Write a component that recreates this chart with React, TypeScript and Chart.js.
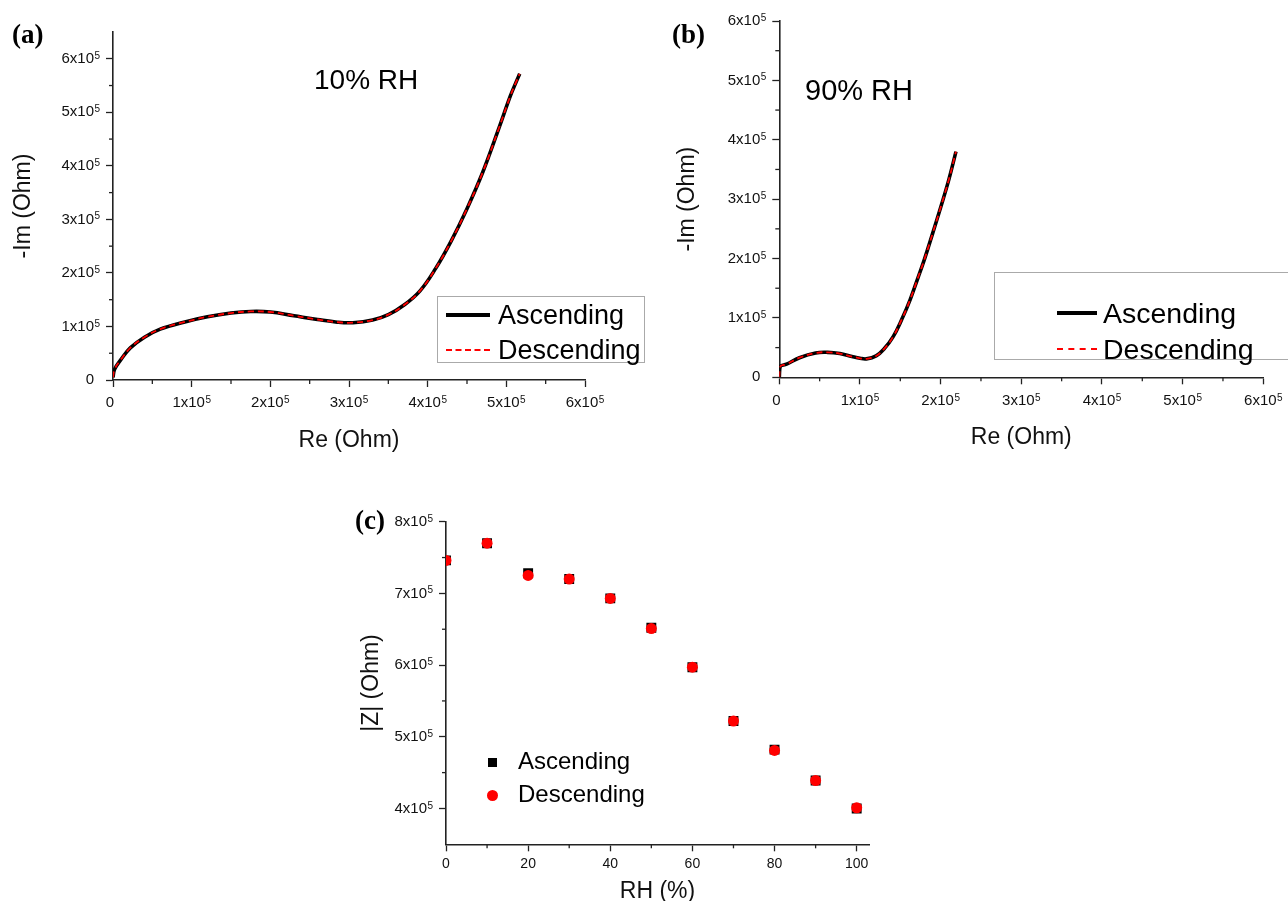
import React, { useEffect, useRef } from "react";
import { Chart, registerables } from "chart.js";

Chart.register(...registerables);

// ---------- DATA ----------
// Panel (a): 10% RH Nyquist plot (units: Ohm)
const reA: number[] = [0, 0.02e5, 0.1e5, 0.22e5, 0.4e5, 0.6e5, 0.9e5, 1.2e5, 1.5e5, 1.75e5, 2.0e5, 2.3e5, 2.6e5, 2.85e5, 3.05e5, 3.3e5, 3.5e5, 3.7e5, 3.9e5, 4.1e5, 4.3e5, 4.5e5, 4.7e5, 4.9e5, 5.05e5, 5.12e5, 5.17e5];
const imAasc: number[] = [0.05e5, 0.2e5, 0.38e5, 0.6e5, 0.8e5, 0.95e5, 1.08e5, 1.18e5, 1.25e5, 1.28e5, 1.27e5, 1.2e5, 1.13e5, 1.08e5, 1.07e5, 1.12e5, 1.22e5, 1.4e5, 1.66e5, 2.08e5, 2.6e5, 3.2e5, 3.88e5, 4.68e5, 5.3e5, 5.55e5, 5.72e5];
const imAdesc: number[] = [0.05e5, 0.2e5, 0.38e5, 0.6e5, 0.8e5, 0.95e5, 1.08e5, 1.18e5, 1.25e5, 1.28e5, 1.27e5, 1.2e5, 1.13e5, 1.08e5, 1.07e5, 1.12e5, 1.22e5, 1.4e5, 1.66e5, 2.08e5, 2.6e5, 3.2e5, 3.88e5, 4.68e5, 5.3e5, 5.55e5, 5.72e5];

// Panel (b): 90% RH Nyquist plot (units: Ohm)
const reB: number[] = [0, 0.01e5, 0.09e5, 0.25e5, 0.45e5, 0.6e5, 0.75e5, 0.9e5, 1.0e5, 1.08e5, 1.2e5, 1.3e5, 1.41e5, 1.52e5, 1.62e5, 1.72e5, 1.8e5, 1.9e5, 2.0e5, 2.1e5, 2.19e5];
const imBasc: number[] = [0, 0.18e5, 0.22e5, 0.33e5, 0.41e5, 0.42e5, 0.4e5, 0.35e5, 0.32e5, 0.31e5, 0.36e5, 0.48e5, 0.68e5, 0.98e5, 1.3e5, 1.68e5, 1.99e5, 2.42e5, 2.86e5, 3.32e5, 3.8e5];
const imBdesc: number[] = [0, 0.18e5, 0.22e5, 0.33e5, 0.41e5, 0.42e5, 0.4e5, 0.35e5, 0.32e5, 0.31e5, 0.36e5, 0.48e5, 0.68e5, 0.98e5, 1.3e5, 1.68e5, 1.99e5, 2.42e5, 2.86e5, 3.32e5, 3.8e5];

// Panel (c): |Z| vs RH
const rhC: number[] = [0, 10, 20, 30, 40, 50, 60, 70, 80, 90, 100];
const zAsc: number[] = [7.46e5, 7.7e5, 7.28e5, 7.2e5, 6.93e5, 6.52e5, 5.97e5, 5.22e5, 4.82e5, 4.39e5, 4.0e5];
const zDesc: number[] = [7.46e5, 7.7e5, 7.25e5, 7.2e5, 6.93e5, 6.51e5, 5.97e5, 5.22e5, 4.81e5, 4.39e5, 4.01e5];

const seriesNames: string[] = ["Ascending", "Descending"];
const panelLabels: string[] = ["(a)", "(b)", "(c)"];
const rhNotes: string[] = ["10% RH", "90% RH"];
const EXPONENT = "5";

// ---------- HELPERS ----------
const SANS = "'Liberation Sans', Arial, sans-serif";
const SERIF = "'Liberation Serif', 'Times New Roman', serif";
const AXIS = "#222";

// mantissa part "6x10"; the exponent is drawn as a superscript by the plugin below
const sciFmt = (v: number | string) => {
  const n = Number(v);
  if (n === 0) return "0";
  return `${Math.round(n / 1e5)}x10`;
};

const pts = (xs: number[], ys: number[]) => xs.map((x, i) => ({ x, y: ys[i] }));

const minorTicksPlugin = {
  id: "minorTicks",
  afterDraw(chart: any, _args: any, opts: any) {
    const ctx = chart.ctx;
    ctx.save();
    ctx.strokeStyle = AXIS;
    ctx.lineWidth = 1.3;
    const len = opts.length ?? 4;
    ["x", "y"].forEach((id) => {
      const sc = chart.scales[id];
      if (!sc) return;
      const vals = sc.ticks.map((t: any) => t.value);
      const minors: number[] = [];
      for (let i = 0; i < vals.length - 1; i++) minors.push((vals[i] + vals[i + 1]) / 2);
      if (vals.length > 1) {
        const st = vals[1] - vals[0];
        const after = vals[vals.length - 1] + st / 2;
        if (after < sc.max - 1e-9) minors.push(after);
        const before = vals[0] - st / 2;
        if (before > sc.min + 1e-9) minors.push(before);
      }
      minors.forEach((v) => {
        const p = sc.getPixelForValue(v);
        ctx.beginPath();
        if (id === "x") {
          ctx.moveTo(p, sc.top);
          ctx.lineTo(p, sc.top + len);
        } else {
          ctx.moveTo(sc.right, p);
          ctx.lineTo(sc.right - len, p);
        }
        ctx.stroke();
      });
    });
    ctx.restore();
  },
};

// draws the superscript exponent after every "Nx10" tick label
const exponentPlugin = {
  id: "sciExponent",
  afterDraw(chart: any, _args: any, opts: any) {
    const ids: string[] = opts.scales ?? [];
    const ctx = chart.ctx;
    ctx.save();
    ids.forEach((id) => {
      const sc = chart.scales[id];
      if (!sc || !sc.getLabelItems) return;
      const items = sc.getLabelItems();
      items.forEach((it: any) => {
        const label = String(it.label);
        if (!label.endsWith("x10")) return;
        const f = it.font;
        ctx.font = f.string;
        const w = ctx.measureText(label).width;
        const [tx, ty] = it.options.translation;
        const align = it.options.textAlign;
        const right = align === "right" ? tx : align === "left" ? tx + w : tx + w / 2;
        const mid = ty + (it.textOffset || 0);
        const size = f.size;
        const expSize = Math.round(size * 0.66);
        ctx.font = `${expSize}px ${SANS}`;
        ctx.fillStyle = "#111";
        ctx.textAlign = "left";
        ctx.textBaseline = "alphabetic";
        const capTop = mid - 0.37 * size;
        ctx.fillText(EXPONENT, right + 0.5, capTop - 1.5 + 0.716 * expSize);
      });
    });
    ctx.restore();
  },
};

function axis(opts: {
  min: number;
  max: number;
  step: number;
  title: string;
  fmt?: (v: number | string) => string;
  fit: number;
  horizontal: boolean;
  titlePad: number;
  tickSize: number;
  labelPad: number;
  labelOffset?: number;
}) {
  return {
    type: "linear",
    bounds: "data",
    min: opts.min,
    max: opts.max,
    ticks: {
      stepSize: opts.step,
      autoSkip: false,
      maxRotation: 0,
      color: "#111",
      padding: opts.labelPad,
      labelOffset: opts.labelOffset ?? 0,
      font: { family: SANS, size: opts.tickSize },
      callback: opts.fmt ?? ((v: number | string) => String(v)),
    },
    // major ticks at every whole multiple of the step inside [min, max]
    afterBuildTicks: (s: any) => {
      const out: { value: number }[] = [];
      const first = Math.ceil(opts.min / opts.step - 1e-9);
      const last = Math.floor(opts.max / opts.step + 1e-9);
      for (let k = first; k <= last; k++) out.push({ value: k * opts.step });
      s.ticks = out;
    },
    grid: {
      drawOnChartArea: false,
      drawTicks: true,
      tickLength: 7,
      tickWidth: 1.3,
      tickColor: AXIS,
    },
    border: { display: true, color: AXIS, width: 1.6 },
    title: {
      display: true,
      text: opts.title,
      color: "#111",
      font: { family: SANS, size: 23 },
      padding: opts.horizontal ? { top: 0, bottom: opts.titlePad } : { top: opts.titlePad, bottom: 0 },
    },
    afterFit: (s: any) => {
      if (opts.horizontal) s.height = opts.fit;
      else s.width = opts.fit;
    },
  };
}

function useChart(ref: React.RefObject<HTMLCanvasElement | null>, makeConfig: () => any) {
  useEffect(() => {
    if (!ref.current) return;
    const chart = new Chart(ref.current, makeConfig());
    return () => chart.destroy();
  }, []);
}

const lineDatasets = (xs: number[], asc: number[], desc: number[]) => [
  {
    label: seriesNames[1],
    data: pts(xs, desc),
    showLine: true,
    borderColor: "#ff0000",
    borderWidth: 1.8,
    borderDash: [6, 4],
    pointRadius: 0,
    tension: 0.4,
    order: 0,
  },
  {
    label: seriesNames[0],
    data: pts(xs, asc),
    showLine: true,
    borderColor: "#000",
    borderWidth: 3.6,
    pointRadius: 0,
    tension: 0.4,
    order: 1,
  },
];

const pluginOpts = (scales: string[]) => ({
  legend: { display: false },
  tooltip: { enabled: false },
  minorTicks: { length: 4 },
  sciExponent: { scales },
});

// ---------- COMPONENTS ----------
function LineLegend(props: { left: number; top: number; width: number; height: number; fontSize: number; rows: number[]; lineX: number; lineW: number; textX: number; thinDash?: boolean }) {
  const { left, top, width, height, fontSize, rows, lineX, lineW, textX, thinDash } = props;
  return (
    <div style={{ position: "absolute", left, top, width, height, border: "1.5px solid #aaa", boxSizing: "border-box" }}>
      {seriesNames.map((n, i) => (
        <React.Fragment key={n}>
          <div
            style={{
              position: "absolute",
              left: lineX,
              top: rows[i] - (i === 0 ? 2 : 1),
              width: lineW,
              height: 0,
              borderTop: i === 0 ? "4px solid #000" : `${thinDash ? 2 : 2.5}px dashed #ff0000`,
            }}
          />
          <div
            style={{
              position: "absolute",
              left: textX,
              top: rows[i] - fontSize * 0.6,
              fontFamily: SANS,
              fontSize,
              lineHeight: `${fontSize * 1.2}px`,
              color: "#000",
              whiteSpace: "nowrap",
            }}
          >
            {n}
          </div>
        </React.Fragment>
      ))}
    </div>
  );
}

export default function App() {
  const refA = useRef<HTMLCanvasElement>(null);
  const refB = useRef<HTMLCanvasElement>(null);
  const refC = useRef<HTMLCanvasElement>(null);

  useChart(refA, () => ({
    type: "scatter",
    data: { datasets: lineDatasets(reA, imAasc, imAdesc) },
    options: {
      animation: false,
      responsive: false,
      layout: { padding: { left: 0, top: 32, right: 35, bottom: 0 } },
      plugins: pluginOpts(["x", "y"]),
      scales: {
        x: axis({ min: 0, max: 6e5, step: 1e5, title: "Re (Ohm)", fmt: sciFmt, fit: 74, horizontal: true, titlePad: 0, tickSize: 15, labelPad: 7, labelOffset: -3 }),
        y: axis({ min: 0, max: 6.5e5, step: 1e5, title: "-Im (Ohm)", fmt: sciFmt, fit: 113, horizontal: false, titlePad: 10, tickSize: 15, labelPad: 12 }),
      },
    },
    plugins: [minorTicksPlugin, exponentPlugin],
  }));

  useChart(refB, () => ({
    type: "scatter",
    data: { datasets: lineDatasets(reB, imBasc, imBdesc) },
    options: {
      animation: false,
      responsive: false,
      layout: { padding: { left: 0, top: 21, right: 24.7, bottom: 0 } },
      plugins: pluginOpts(["x", "y"]),
      scales: {
        x: axis({ min: 0, max: 6e5, step: 1e5, title: "Re (Ohm)", fmt: sciFmt, fit: 73.7, horizontal: true, titlePad: 0, tickSize: 15, labelPad: 8, labelOffset: -3 }),
        y: axis({ min: 0, max: 6e5, step: 1e5, title: "-Im (Ohm)", fmt: sciFmt, fit: 119.3, horizontal: false, titlePad: 14, tickSize: 15, labelPad: 12 }),
      },
    },
    plugins: [minorTicksPlugin, exponentPlugin],
  }));

  useChart(refC, () => ({
    type: "scatter",
    data: {
      datasets: [
        {
          label: seriesNames[1],
          data: pts(rhC, zDesc),
          pointStyle: "circle",
          pointRadius: 5.5,
          backgroundColor: "#ff0000",
          borderColor: "#ff0000",
          borderWidth: 0,
          order: 0,
        },
        {
          label: seriesNames[0],
          data: pts(rhC, zAsc),
          pointStyle: "rect",
          pointRadius: 7,
          backgroundColor: "#000",
          borderColor: "#000",
          borderWidth: 0,
          order: 1,
        },
      ],
    },
    options: {
      animation: false,
      responsive: false,
      layout: { padding: { left: 0, top: 31.7, right: 31, bottom: 0 } },
      plugins: pluginOpts(["y"]),
      scales: {
        x: axis({ min: 0, max: 103, step: 20, title: "RH (%)", fit: 60.7, horizontal: true, titlePad: 0, tickSize: 14, labelPad: 4 }),
        y: axis({ min: 3.5e5, max: 8e5, step: 1e5, title: "|Z| (Ohm)", fmt: sciFmt, fit: 106, horizontal: false, titlePad: 18, tickSize: 15, labelPad: 12 }),
      },
    },
    plugins: [minorTicksPlugin, exponentPlugin],
  }));

  const panelStyle = (left: number, top: number): React.CSSProperties => ({
    position: "absolute",
    left,
    top,
    fontFamily: SERIF,
    fontWeight: "bold",
    fontSize: 27,
    lineHeight: "30px",
    color: "#000",
  });
  const noteStyle = (left: number, top: number, size: number): React.CSSProperties => ({
    position: "absolute",
    left,
    top,
    fontFamily: SANS,
    fontSize: size,
    lineHeight: `${size * 1.2}px`,
    color: "#000",
    whiteSpace: "nowrap",
  });

  return (
    <div style={{ position: "absolute", left: 0, top: 0, width: 1288, height: 901, overflow: "hidden", background: "#fff" }}>
      <canvas ref={refA} width={620} height={454} style={{ position: "absolute", left: 0, top: 0, width: 620, height: 454 }} />
      <canvas ref={refB} width={628} height={451} style={{ position: "absolute", left: 660, top: 0, width: 628, height: 451 }} />
      <canvas ref={refC} width={560} height={415} style={{ position: "absolute", left: 340, top: 490, width: 560, height: 415 }} />

      <div style={panelStyle(12, 19)}>{panelLabels[0]}</div>
      <div style={panelStyle(672, 19)}>{panelLabels[1]}</div>
      <div style={panelStyle(355, 505)}>{panelLabels[2]}</div>

      <div style={noteStyle(314, 63, 28)}>{rhNotes[0]}</div>
      <div style={noteStyle(805, 73, 29)}>{rhNotes[1]}</div>

      <LineLegend left={437} top={296} width={208} height={67} fontSize={27} rows={[18, 53]} lineX={8} lineW={44} textX={60} />
      <LineLegend left={994} top={272} width={310} height={88} fontSize={28.5} rows={[40, 76]} lineX={62} lineW={40} textX={108} thinDash />

      <div style={{ position: "absolute", left: 488, top: 758, width: 9, height: 9, background: "#000" }} />
      <div style={{ position: "absolute", left: 487, top: 790, width: 11, height: 11, borderRadius: "50%", background: "#ff0000" }} />
      <div style={noteStyle(518, 747, 24)}>{seriesNames[0]}</div>
      <div style={noteStyle(518, 780, 24)}>{seriesNames[1]}</div>
    </div>
  );
}
